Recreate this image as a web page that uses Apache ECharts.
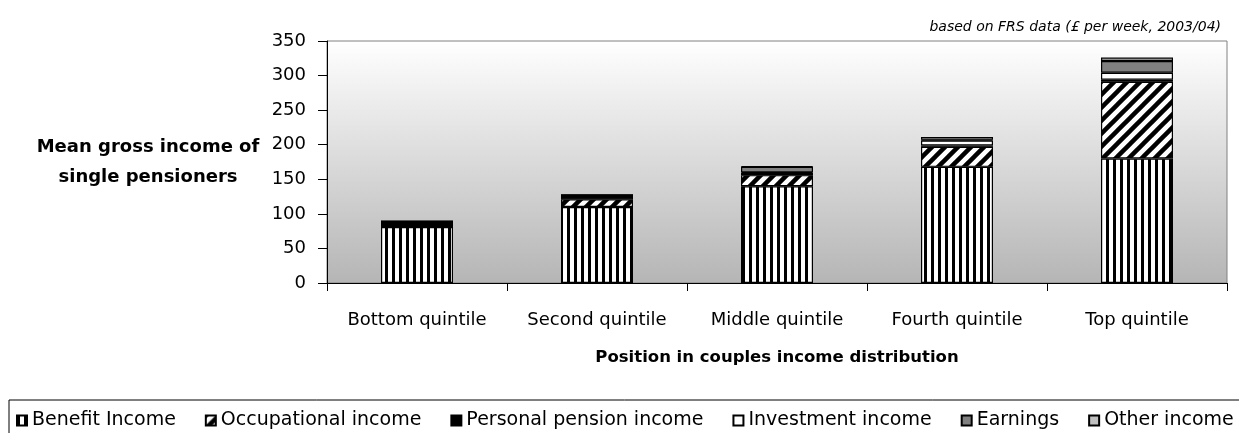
<!DOCTYPE html>
<html>
<head>
<meta charset="utf-8">
<script src="https://cdn.jsdelivr.net/npm/echarts@6/dist/echarts.min.js"></script>
<style>
  html, body { margin: 0; padding: 0; background: #fff; }
  #main { width: 1239px; height: 433px; }
</style>
</head>
<body>
<div id="main"></div>
<script>
  // values, £ per week
  var categories = ['Bottom quintile', 'Second quintile', 'Middle quintile', 'Fourth quintile', 'Top quintile'];
  var benefitIncome = [81, 110, 140, 168, 180];
  var occupationalIncome = [0, 11, 16, 29, 111];
  var personalPension = [8, 6, 3, 2, 3];
  var investmentIncome = [0, 0, 1, 7, 10];
  var earnings = [0, 0, 8, 1, 17];
  var otherIncome = [0, 0, 1, 4, 5];
  var yTicks = { min: 0, max: 350, interval: 50 };

  // the reference text is wide, DejaVu is the closest fit
  var font = '"DejaVu Sans", "Liberation Sans", sans-serif';

  // black/white fills like the old excel patterns
  function vStripes() {
    var c = document.createElement('canvas');
    c.width = 7; c.height = 7;
    var g = c.getContext('2d');
    g.fillStyle = '#fff'; g.fillRect(0, 0, 7, 7);
    g.fillStyle = '#000'; g.fillRect(0, 0, 3, 7);
    return { image: c, repeat: 'repeat' };
  }
  function diagStripes() {
    var p = 13;
    var c = document.createElement('canvas');
    c.width = p; c.height = p;
    var g = c.getContext('2d');
    g.fillStyle = '#fff'; g.fillRect(0, 0, p, p);
    g.strokeStyle = '#000'; g.lineWidth = 4.5;
    [0, p, 2 * p].forEach(function (k) {
      g.beginPath();
      g.moveTo(-2, k + 2);
      g.lineTo(k + 2, -2);
      g.stroke();
    });
    return { image: c, repeat: 'repeat' };
  }

  function layer(name, data, fill) {
    return {
      name: name,
      type: 'bar',
      stack: 'total',
      barWidth: '40%',
      data: data,
      itemStyle: { color: fill, borderColor: '#000', borderWidth: 1.2 },
      emphasis: { disabled: true }
    };
  }

  var chart = echarts.init(document.getElementById('main'));
  var option = {
    animation: false,
    title: {
      text: 'based on FRS data (£ per week, 2003/04)',
      right: 13,
      top: 15,
      textStyle: { fontFamily: font, fontSize: 14, fontStyle: 'italic', fontWeight: 'normal', color: '#000' }
    },
    grid: {
      left: 327, right: 12, top: 41, bottom: 150,
      containLabel: false,
      outerBoundsMode: 'none',
      show: true,
      borderColor: '#808080',
      borderWidth: 1,
      backgroundColor: {
        type: 'linear', x: 0, y: 0, x2: 0, y2: 1,
        colorStops: [{ offset: 0, color: '#ffffff' }, { offset: 1, color: '#b5b5b5' }]
      }
    },
    legend: {
      left: 9,
      top: 400,
      width: 1300,
      padding: [11, 40, 9, 7],
      borderColor: '#000',
      borderWidth: 1,
      itemWidth: 10,
      itemHeight: 10,
      itemGap: 29,
      icon: 'rect',
      textStyle: { fontFamily: font, fontSize: 19, color: '#000' },
      data: ['Benefit Income', 'Occupational income', 'Personal pension income', 'Investment income', 'Earnings', 'Other income']
    },
    xAxis: {
      type: 'category',
      data: categories,
      name: 'Position in couples income distribution',
      nameLocation: 'middle',
      nameGap: 66,
      nameTextStyle: { fontFamily: font, fontSize: 16.5, fontWeight: 'bold', color: '#000' },
      axisLine: { lineStyle: { color: '#000', width: 1 } },
      axisTick: { show: true, length: 8, interval: 0, lineStyle: { color: '#000' } },
      axisLabel: { fontFamily: font, fontSize: 18, color: '#000', margin: 28, interval: 0 },
      splitLine: { show: false }
    },
    yAxis: {
      type: 'value',
      min: yTicks.min,
      max: yTicks.max,
      interval: yTicks.interval,
      name: 'Mean gross income of\nsingle pensioners',
      nameLocation: 'middle',
      nameRotate: 0,
      nameGap: 179,
      nameTextStyle: { fontFamily: font, fontSize: 18, fontWeight: 'bold', color: '#000', align: 'center', lineHeight: 30 },
      axisLine: { show: true, lineStyle: { color: '#000', width: 1 } },
      axisTick: { show: true, length: 9, lineStyle: { color: '#000' } },
      axisLabel: { fontFamily: font, fontSize: 18, color: '#000', margin: 21 },
      splitLine: { show: false }
    },
    series: [
      layer('Benefit Income', benefitIncome, vStripes()),
      layer('Occupational income', occupationalIncome, diagStripes()),
      layer('Personal pension income', personalPension, '#000'),
      layer('Investment income', investmentIncome, '#fff'),
      layer('Earnings', earnings, '#808080'),
      layer('Other income', otherIncome, '#c0c0c0')
    ]
  };
  chart.setOption(option);
</script>
</body>
</html>
